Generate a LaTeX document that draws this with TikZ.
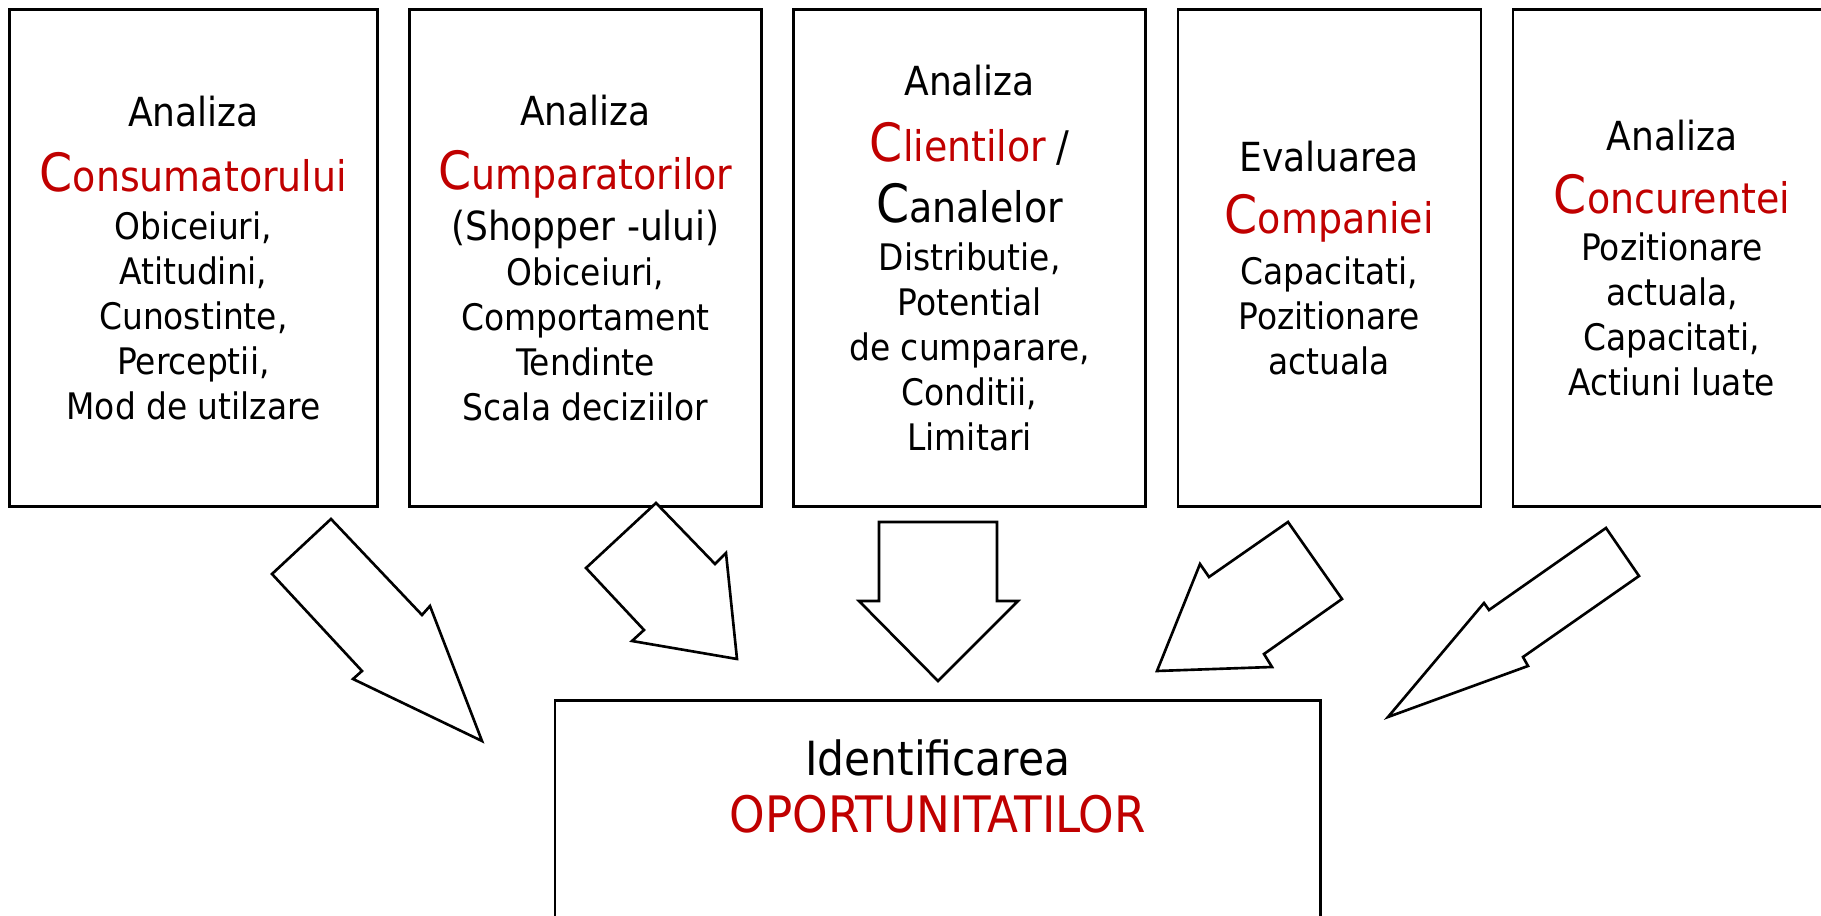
\documentclass[tikz,border=0pt]{standalone}
\usepackage{fontspec}
\setmainfont{DejaVu Sans Condensed}
\usetikzlibrary{positioning}
\definecolor{oppred}{RGB}{192,0,0}
\newcommand{\bodyfont}{\fontsize{10.4}{12.8}\selectfont}
\newcommand{\headfont}{\fontsize{11.4}{13.5}\selectfont}
\newcommand{\capword}[2]{{\fontsize{15}{17}\selectfont #1}{\fontsize{12}{14}\selectfont #2}}

\begin{document}
\begin{tikzpicture}[node distance=0.295cm]
  \tikzstyle{infobox} = [rectangle, draw=black, line width=0.75pt, minimum height=4.97cm, align=center, font=\bodyfont, inner sep=0pt]
  \tikzstyle{blockarrow} = [draw=black, line width=0.75pt, fill=white, line join=miter]

  \useasboundingbox (0,0) rectangle (18.21,-9.16);
  \clip (0,0) rectangle (18.21,-9.16);

  \node (consumator) [infobox, minimum width=3.68cm] at (1.934,-2.579) {{\headfont Analiza}\\[5.7pt] {\color{oppred}\capword{C}{onsumatorului}}\\[1pt] Obiceiuri,\\ Atitudini,\\ Cunostinte,\\ Perceptii,\\ Mod de utilzare};
  \node (cumparatori) [infobox, minimum width=3.52cm, right=of consumator] {{\headfont Analiza}\\[5.5pt] {\color{oppred}\capword{C}{umparatorilor}}\\[1.8pt] {\headfont (Shopper -ului)}\\ Obiceiuri,\\ Comportament\\ Tendinte\\ Scala deciziilor};
  \node (clienti) [infobox, minimum width=3.52cm, right=of cumparatori] {{\headfont Analiza}\\[6.2pt] {\color{oppred}\capword{C}{lientilor}} {\fontsize{12}{14}\selectfont /}\\[4.4pt] \capword{C}{analelor}\\[1pt] Distributie,\\ Potential\\ de cumparare,\\ Conditii,\\ Limitari};
  \node (companie) [infobox, minimum width=3.03cm, right=of clienti] {{\headfont Evaluarea}\\[4.8pt] {\color{oppred}\capword{C}{ompaniei}}\\[1.8pt] Capacitati,\\ Pozitionare\\ actuala};
  \node (concurenta) [infobox, minimum width=3.18cm, right=of companie] {{\headfont Analiza}\\[5.4pt] {\color{oppred}\capword{C}{oncurentei}}\\[0.5pt] Pozitionare\\ actuala,\\ Capacitati,\\ Actiuni luate};

  \node (oportunitati) [rectangle, draw=black, line width=0.75pt, minimum width=7.655cm, minimum height=3cm, anchor=north] at (9.378,-6.99) {};
  \node (oportunitati-text) [below=0.40cm of oportunitati.north, inner sep=0pt, align=center, font=\fontsize{13.4}{16.2}\selectfont] {Identificarea\\ {\fontsize{14.3}{16.2}\selectfont\color{oppred}OPORTUNITATILOR}};

  \draw [blockarrow] (3.31,-5.19) -- (2.72,-5.74) -- (3.62,-6.71) -- (3.53,-6.79) -- (4.82,-7.41) -- (4.30,-6.06) -- (4.22,-6.15) -- cycle;
  \draw [blockarrow] (6.56,-5.03) -- (5.86,-5.68) -- (6.44,-6.30) -- (6.32,-6.41) -- (7.37,-6.59) -- (7.26,-5.53) -- (7.15,-5.64) -- cycle;
  \draw [blockarrow] (8.79,-5.22) -- (9.97,-5.22) -- (9.97,-6.01) -- (10.18,-6.01) -- (9.38,-6.81) -- (8.59,-6.01) -- (8.79,-6.01) -- cycle;
  \draw [blockarrow] (12.88,-5.22) -- (13.42,-5.99) -- (12.64,-6.54) -- (12.72,-6.67) -- (11.57,-6.71) -- (12.00,-5.64) -- (12.09,-5.77) -- cycle;
  \draw [blockarrow] (16.06,-5.28) -- (16.39,-5.76) -- (15.23,-6.57) -- (15.28,-6.66) -- (13.88,-7.17) -- (14.84,-6.03) -- (14.89,-6.10) -- cycle;
\end{tikzpicture}
\end{document}
